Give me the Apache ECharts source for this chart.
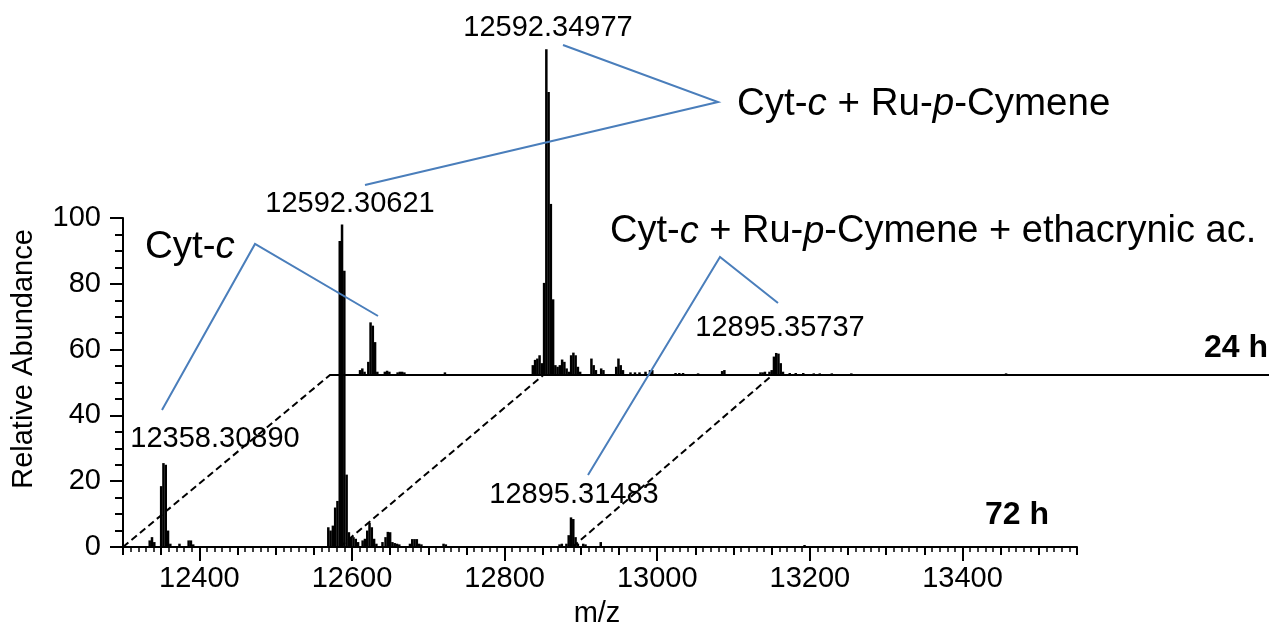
<!DOCTYPE html>
<html>
<head>
<meta charset="utf-8">
<script src="https://cdn.jsdelivr.net/npm/echarts@6/dist/echarts.min.js"></script>
<style>
html, body { margin: 0; padding: 0; background: #fff; }
#chart { width: 1269px; height: 628px; }
</style>
</head>
<body>
<div id="chart"></div>
<script>
// 72 h spectrum (lower trace, carries the axes)
var mz72 = [12335, 12338, 12341, 12350, 12353, 12356, 12359, 12362, 12374, 12386, 12389, 12392,
  12569, 12572, 12575, 12578, 12581, 12584, 12587, 12590, 12593, 12596, 12599, 12602, 12605, 12608,
  12614, 12617, 12620, 12623, 12626, 12629, 12632,
  12640, 12644, 12647, 12650, 12653, 12656, 12659, 12662,
  12676, 12679, 12682, 12685, 12688, 12691,
  12720, 12723,
  12872, 12875, 12881, 12884, 12887, 12890, 12893, 12896, 12903, 12906, 12926,
  13193];
var ab72 = [2, 3, 1.5, 18.5, 25.5, 25, 5, 1, 1, 2, 2, 0.8,
  6, 5, 6.5, 12, 14, 93, 98, 84, 22, 4.5, 3, 3, 2.5, 1.5,
  2, 2.5, 5, 7.3, 6, 2.5, 1,
  1.5, 3, 4.6, 4.5, 1.5, 1.2, 1, 0.8,
  1, 2.4, 2.4, 2.4, 1, 0.8,
  1, 0.8,
  0.8, 1, 1, 3.6, 9, 8.5, 3, 1, 1, 0.8, 1.5,
  0.6];

// 24 h spectrum (upper, offset trace)
var mz24 = [12340, 12343, 12346, 12351, 12354, 12357, 12360, 12363, 12373, 12376, 12379, 12390, 12393, 12396, 12399, 12453,
  12570, 12573, 12576, 12579, 12582, 12585, 12588, 12591, 12594, 12597, 12600, 12603, 12606, 12609, 12612, 12615, 12618, 12621, 12624, 12627, 12630, 12633,
  12648, 12651, 12654, 12661, 12664, 12681, 12684, 12687, 12690,
  12700, 12706, 12712, 12720, 12726, 12729, 12760, 12765, 12770, 12790, 12822, 12825,
  12873, 12876, 12879, 12885, 12888, 12891, 12894, 12897, 12900, 12903,
  12912, 12920, 12930, 12944, 12952, 12968, 12994, 13200];
var ab24 = [1.5, 2, 1, 4, 16, 15, 10, 1, 1, 1.3, 1, 0.8, 1, 1, 0.8, 0.8,
  3, 4.6, 5, 6, 3.6, 28, 99, 86, 52, 23, 3, 2.5, 3, 4.7, 4, 2, 1, 6, 6.8, 6, 2.5, 1,
  5, 3, 1.5, 2, 1.5, 2.5, 5, 3, 1.5,
  0.8, 0.8, 0.8, 1, 1.5, 1.5, 0.6, 0.6, 0.6, 0.5, 1.2, 1.5,
  0.8, 0.8, 1, 1, 1.5, 5.6, 6.7, 6.5, 3.6, 1,
  0.6, 0.6, 0.6, 0.5, 0.5, 0.5, 0.5, 0.5];

var xLabels = [12400, 12600, 12800, 13000, 13200, 13400];
var linkMz = [12300, 12584, 12889];   // dashed lines joining the two traces

var font = 'Liberation Sans, Arial, sans-serif';
var blue = '#4a7ebb';

var chart = echarts.init(document.getElementById('chart'));

function pairs(xs, ys) {
  return xs.map(function (m, i) { return [m, ys[i]]; });
}

var xBase = { type: 'value', min: 12300, max: 13550, splitLine: { show: false } };

chart.setOption({
  animation: false,
  grid: [
    { left: 123, top: 218, width: 954, height: 329 },
    { left: 330, top: 46, width: 954, height: 329 }
  ],
  xAxis: [
    Object.assign({}, xBase, {
      gridIndex: 0, interval: 50,
      axisLine: { lineStyle: { color: '#000', width: 2 } },
      axisTick: { length: 8, lineStyle: { color: '#000', width: 2 } },
      minorTick: { show: true, splitNumber: 5, length: 5, lineStyle: { color: '#000', width: 1.5 } },
      axisLabel: {
        customValues: xLabels, color: '#000', fontSize: 29, fontFamily: font, margin: 17,
        formatter: function (v) { return String(v); }
      }
    }),
    Object.assign({}, xBase, {
      gridIndex: 0, position: 'bottom',
      axisLine: { show: false },
      axisTick: { customValues: xLabels, length: 14, lineStyle: { color: '#000', width: 2 } },
      axisLabel: { show: false }
    }),
    Object.assign({}, xBase, {
      gridIndex: 1, interval: 50,
      axisLine: { lineStyle: { color: '#000', width: 2 } },
      axisTick: { show: false },
      axisLabel: { show: false }
    })
  ],
  yAxis: [
    {
      type: 'value', gridIndex: 0, min: 0, max: 100, interval: 20,
      splitLine: { show: false },
      axisLine: { show: true, lineStyle: { color: '#000', width: 2 } },
      axisTick: { show: true, length: 13, lineStyle: { color: '#000', width: 2 } },
      minorTick: { show: true, splitNumber: 4, length: 8, lineStyle: { color: '#000', width: 2 } },
      axisLabel: { color: '#000', fontSize: 29, fontFamily: font, margin: 22 }
    },
    { type: 'value', gridIndex: 1, min: 0, max: 100, show: false }
  ],
  series: [
    {
      type: 'bar', xAxisIndex: 0, yAxisIndex: 0, barWidth: 2.5, silent: true,
      itemStyle: { color: '#000' }, data: pairs(mz72, ab72)
    },
    {
      type: 'bar', xAxisIndex: 2, yAxisIndex: 1, barWidth: 2.5, silent: true,
      itemStyle: { color: '#000' }, data: pairs(mz24, ab24)
    }
  ]
});

// dashed perspective lines from the lower baseline to the upper one
var graphics = linkMz.map(function (m) {
  var a = chart.convertToPixel({ xAxisIndex: 0, yAxisIndex: 0 }, [m, 0]);
  var b = chart.convertToPixel({ xAxisIndex: 2, yAxisIndex: 1 }, [m, 0]);
  return {
    type: 'line', z: 1, silent: true,
    shape: { x1: a[0], y1: a[1], x2: b[0], y2: b[1] },
    style: { stroke: '#000', lineWidth: 2, lineDash: [7, 4] }
  };
});

function callout(points) {
  return {
    type: 'polyline', z: 10, silent: true,
    shape: { points: points },
    style: { stroke: blue, lineWidth: 2, fill: null }
  };
}
graphics.push(callout([[162, 410], [255, 244], [378, 316]]));
graphics.push(callout([[563, 45], [718, 102], [365, 185]]));
graphics.push(callout([[588, 475], [720, 257], [778, 303]]));

function label(txt, x, y, opts) {
  opts = opts || {};
  return {
    type: 'text', z: 20, silent: true, x: x, y: y,
    rotation: opts.rotation || 0,
    style: {
      text: txt, fill: '#000', font: (opts.bold ? 'bold ' : '') + (opts.size || 29) + 'px ' + font,
      align: opts.align || 'center', verticalAlign: 'middle',
      rich: { i: { fontStyle: 'italic', fontSize: opts.size || 29, fontFamily: font } }
    }
  };
}
graphics.push(label('12592.34977', 548, 28));
graphics.push(label('12592.30621', 350, 204));
graphics.push(label('12358.30890', 215, 439));
graphics.push(label('12895.35737', 780, 328));
graphics.push(label('12895.31483', 574, 495));
graphics.push(label('Cyt-{i|c}', 145, 247, { size: 38.5, align: 'left' }));
graphics.push(label('Cyt-{i|c} + Ru-{i|p}-Cymene', 737, 104, { size: 38.5, align: 'left' }));
graphics.push(label('Cyt-{i|c} + Ru-{i|p}-Cymene + ethacrynic ac.', 610, 232, { size: 38, align: 'left' }));
graphics.push(label('24 h', 1268, 348, { size: 32, bold: true, align: 'right' }));
graphics.push(label('72 h', 985, 515, { size: 32, bold: true, align: 'left' }));
graphics.push(label('m/z', 597, 614));
graphics.push(label('Relative Abundance', 24, 359, { rotation: Math.PI / 2 }));

chart.setOption({ graphic: graphics });
</script>
</body>
</html>
